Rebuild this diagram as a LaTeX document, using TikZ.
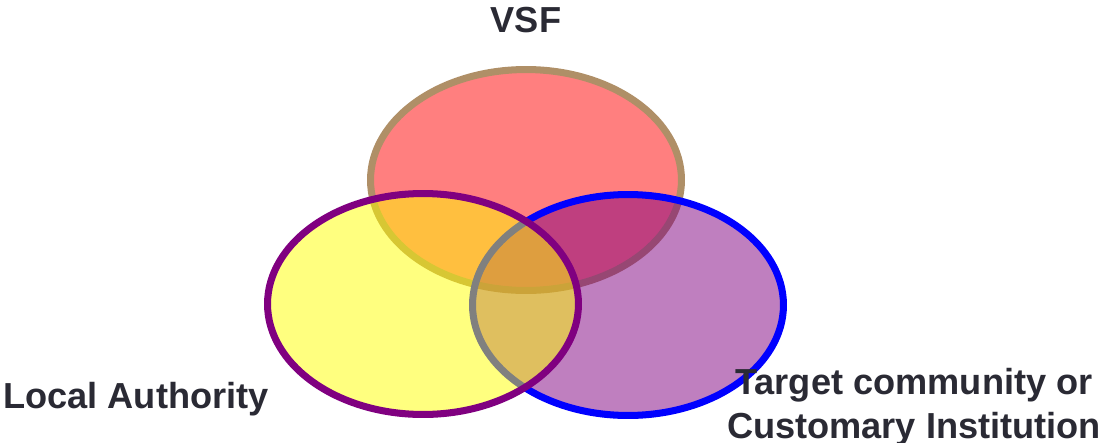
\documentclass[tikz,border=0pt]{standalone}
\usepackage{fontspec}
\setmainfont{Liberation Sans}
\usepackage{tikz}
\usetikzlibrary{shapes.geometric}

\definecolor{vsftan}{RGB}{175,143,103}
\definecolor{vsfred}{RGB}{255,0,0}
\definecolor{vsfyellow}{RGB}{255,255,0}
\definecolor{vsfpurple}{RGB}{128,0,128}
\definecolor{vsfblue}{RGB}{0,0,255}
\definecolor{labelgray}{RGB}{42,42,52}

\tikzset{
  blob/.style={ellipse, minimum width=6.22cm, minimum height=4.42cm,
    inner sep=0pt, outer sep=0pt, line width=4pt, fill opacity=0.5},
  setlabel/.style={font=\fontsize{20.6}{25}\selectfont\bfseries,
    text=labelgray, inner sep=0pt, anchor=base}
}

\begin{document}
\begin{tikzpicture}[x=0.02cm, y=-0.02cm]
    \useasboundingbox (0,0) rectangle (1107,443);
    \node[blob, fill=vsfred, draw=vsftan] (V) at (526,180){};
    \node[blob, fill=vsfpurple, draw=vsfblue] (T) at (628,305){};
    \node[blob, fill=vsfyellow, draw=vsfpurple] (L) at (423,304){};
    \node[setlabel] (VL) at (526,32){VSF};
    \node[setlabel] (LL) at (136,408){Local Authority};
    \node[setlabel, align=center] (TL) at (914,438){Target community or\\Customary Institution};
  \end{tikzpicture}
\end{document}
